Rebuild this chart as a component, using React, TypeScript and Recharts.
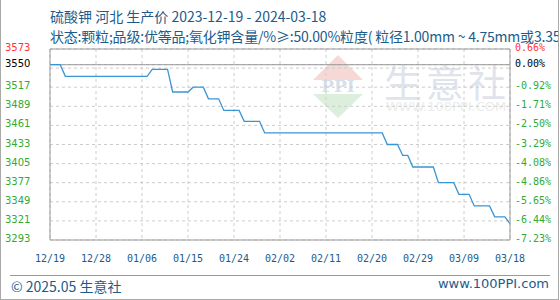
import { LineChart, Line, XAxis, YAxis, CartesianGrid, ReferenceLine } from 'recharts';

// daily price, 2023-12-19 .. 2024-03-18 (index = day offset)
const prices = [
  3550, 3550, 3550, 3533, 3533, 3533, 3533, 3533, 3533, 3533,
  3533, 3533, 3533, 3533, 3533, 3533, 3533, 3533, 3533, 3533,
  3543, 3543, 3543, 3543, 3510, 3510, 3510, 3510, 3517, 3517,
  3517, 3500, 3500, 3500, 3483, 3483, 3483, 3483, 3467, 3467,
  3467, 3467, 3450, 3450, 3450, 3450, 3450, 3450, 3450, 3450,
  3450, 3450, 3450, 3450, 3450, 3450, 3450, 3450, 3450, 3450,
  3450, 3450, 3450, 3450, 3450, 3450, 3433, 3433, 3433, 3417,
  3417, 3400, 3400, 3400, 3400, 3400, 3377, 3377, 3377, 3377,
  3360, 3360, 3360, 3343, 3343, 3343, 3343, 3327, 3327, 3327,
  3317,
];

const xTicks = [0, 9, 18, 27, 36, 45, 54, 63, 72, 81, 90];
const xLabels = ['12/19', '12/28', '01/06', '01/15', '01/24', '02/02', '02/11', '02/20', '02/29', '03/09', '03/18'];

const leftTicks = [3293, 3321, 3349, 3377, 3405, 3433, 3461, 3489, 3517, 3545, 3550, 3573];
const rightTicks = [3293, 3321, 3349, 3377, 3405, 3433, 3461, 3489, 3517, 3550, 3573];
const rightLabels = ['-7.23%', '-6.44%', '-5.65%', '-4.86%', '-4.08%', '-3.29%', '-2.50%', '-1.71%', '-0.92%', '0.00%', '0.66%'];

const BASE = 3550;
const TOP = 3573;
const BOTTOM = 3293;

const data = prices.map((v, i) => ({ d: i, v }));

const BLUE = '#1b5c8c';
const GREEN = '#33aa33';
const RED = '#ff3333';

function tickColor(v: number) {
  if (v === TOP) return RED;
  if (v === BASE) return '#000';
  return GREEN;
}

function LeftTick(props: any) {
  const { x, y, payload } = props;
  if (payload.value === 3545) return null;
  return (
    <text x={x - 45} y={y} dy={2} textAnchor="start" fontSize={10} fontFamily="DejaVu Sans" fill={tickColor(payload.value)}>
      {payload.value}
    </text>
  );
}

function RightTick(props: any) {
  const { x, y, payload } = props;
  const idx = rightTicks.indexOf(payload.value);
  return (
    <text x={x + 5} y={y} dy={2} textAnchor="start" fontSize={10} fontFamily="DejaVu Sans Mono" fill={tickColor(payload.value)}>
      {rightLabels[idx]}
    </text>
  );
}

function BottomTick(props: any) {
  const { x, y, payload } = props;
  const idx = xTicks.indexOf(payload.value);
  return (
    <text x={x} y={y} dy={22} textAnchor="middle" fontSize={10} fontFamily="DejaVu Sans Mono" fill={BLUE}>
      {xLabels[idx]}
    </text>
  );
}

function Watermark() {
  return (
    <svg width={560} height={300} style={{ position: 'absolute', left: 0, top: 0 }}>
      <polygon points="337,55 362,80 312,80" fill="#f6d9d6" />
      <polygon points="337,118 362,94 312,94" fill="#dcefdc" />
      <text x={337} y={92} textAnchor="middle" fontSize={17} fontWeight="bold" fontFamily="DejaVu Serif" fill="#d8dfea">PPI</text>
      <text x={383} y={97} fontSize={38} fontFamily="Noto Sans CJK SC" fill="#dfe4ec" letterSpacing={4}>生意社</text>
      <text x={385} y={111} fontSize={13} fontFamily="DejaVu Sans" fill="#ececec">WWW.100PPI.COM</text>
    </svg>
  );
}

export default function App() {
  return (
    <div
      style={{
        position: 'absolute',
        left: 0,
        top: 0,
        width: 559,
        height: 300,
        overflow: 'hidden',
        boxSizing: 'border-box',
        borderLeft: '1px solid #aaa',
        borderRight: '1px solid #aaa',
        borderBottom: '1px solid #aaa',
        background: '#fff',
      }}
    >
      <Watermark />
      <div style={{ position: 'absolute', left: -1, top: 0 }}>
        <LineChart width={560} height={300} data={data} margin={{ top: 49, right: 0, bottom: 30, left: 0 }}>
          <CartesianGrid stroke="#cccccc" strokeDasharray="3 3" />
          <XAxis
            dataKey="d"
            type="number"
            domain={[0, 90]}
            ticks={xTicks}
            interval={0}
            height={30}
            tickLine={false}
            tickSize={0}
            tickMargin={0}
            axisLine={{ stroke: '#999' }}
            tick={<BottomTick />}
          />
          <YAxis
            type="number"
            domain={[BOTTOM, TOP]}
            ticks={leftTicks}
            interval={0}
            width={50}
            tickLine={false}
            tickSize={0}
            tickMargin={0}
            allowDataOverflow
            axisLine={{ stroke: '#999' }}
            tick={<LeftTick />}
          />
          <YAxis
            yAxisId="r"
            orientation="right"
            type="number"
            domain={[BOTTOM, TOP]}
            ticks={rightTicks}
            interval={0}
            width={50}
            tickLine={false}
            tickSize={0}
            tickMargin={0}
            allowDataOverflow
            axisLine={{ stroke: '#999' }}
            tick={<RightTick />}
          />
          <ReferenceLine y={TOP} stroke="#999" />
          <ReferenceLine y={BASE} stroke="#999" />
          <Line
            type="linear"
            dataKey="v"
            stroke="#3a95d5"
            strokeWidth={1.3}
            dot={false}
            isAnimationActive={false}
          />
        </LineChart>
      </div>
      <div
        style={{
          position: 'absolute',
          left: 49,
          top: 6,
          whiteSpace: 'nowrap',
          color: BLUE,
          fontFamily: '"Noto Sans CJK SC", "DejaVu Sans"',
          fontSize: 14,
          lineHeight: '20px',
        }}
      >
        <div>硫酸钾 河北 生产价 2023-12-19 - 2024-03-18</div>
        <div style={{ letterSpacing: '-0.2px' }}>
          状态:颗粒;品级:优等品;氧化钾含量/%≥:50.00%粒度( 粒径1.00mm ~ 4.75mm或3.35mm ~ 5.60mm ) ≥90%
        </div>
      </div>
      <div style={{ position: 'absolute', left: 9, right: 8, top: 275, borderTop: '1px solid #999' }} />
      <div
        style={{
          position: 'absolute',
          left: 10,
          top: 276,
          fontFamily: '"Noto Sans CJK SC", "DejaVu Sans"',
          fontSize: 14,
          color: BLUE,
          whiteSpace: 'nowrap',
        }}
      >
        © 2025.05 生意社
      </div>
      <div
        style={{
          position: 'absolute',
          right: 9,
          top: 276,
          fontFamily: '"DejaVu Sans"',
          fontSize: 13,
          color: BLUE,
          whiteSpace: 'nowrap',
        }}
      >
        www.100PPI.com
      </div>
    </div>
  );
}
